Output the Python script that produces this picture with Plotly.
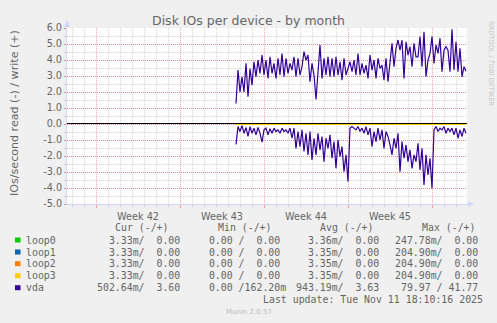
import plotly.graph_objects as go
import pandas as pd

# ---------------- data ----------------
# vda, 4-hourly samples starting 2025-10-24 16:00 (IOs/second)
vda_write = [
    1.28, 3.37, 2.01, 2.95, 2.01, 3.79, 1.70, 3.47, 2.43, 3.89,
    2.95, 3.99, 3.16, 4.31, 3.06, 3.99, 2.85, 4.20, 3.16, 3.79,
    2.85, 4.10, 3.06, 4.41, 2.95, 4.10, 3.16, 3.79, 3.37, 4.20,
    2.95, 4.10, 3.06, 3.58, 4.52, 3.99, 4.31, 2.64, 3.79, 3.06,
    1.53, 3.37, 4.94, 2.85, 4.10, 3.06, 4.20, 2.95, 4.10, 2.95,
    4.20, 3.06, 3.89, 2.74, 4.10, 3.06, 3.47,
    3.89, 3.27, 3.99, 3.06, 4.41, 3.06, 3.79, 3.16, 3.68, 2.85,
    4.31, 3.37, 3.99, 2.85, 4.10, 3.47, 3.68, 2.74, 4.10, 2.64,
    3.79, 5.04, 3.58, 4.73, 5.25, 4.62, 5.25, 2.85, 5.14, 4.31,
    4.83, 3.58, 5.04, 4.20, 4.20, 5.46, 3.58, 5.77, 2.95, 3.99,
    4.41, 5.46, 3.79, 4.94, 4.41, 5.35, 3.27, 4.62, 4.83, 4.62,
    3.27, 5.92, 3.37, 5.14, 3.27, 4.73, 2.95, 3.58, 3.30,
]
vda_read = [
    1.27, 0.16, 0.47, 0.10, 0.58, 0.22, 0.78, 0.16, 0.58, 0.26,
    0.68, 0.22, 0.58, 1.14, 0.37, 0.26, 0.68, 0.30, 0.58, 0.26,
    0.47, 0.37, 0.58, 0.26, 0.47, 0.37, 0.58, 0.26, 0.89, 0.26,
    1.52, 0.47, 1.41, 0.37, 1.72, 0.58, 1.93, 0.47, 2.25, 0.89,
    1.93, 0.58, 1.62, 0.78, 2.35, 0.89, 1.52, 0.68, 2.14, 1.10,
    2.77, 0.99, 2.04, 1.41, 2.98, 1.93, 3.60,
    0.26,
    0.16, 0.26, 0.37, 0.16, 0.47, 0.26, 0.58, 0.16, 0.68,
    0.26, 1.41, 0.47, 1.10, 0.26, 0.99, 0.37, 1.52, 0.47, 0.78,
    1.31, 1.93, 0.89, 1.52, 0.58, 2.98, 1.10, 2.14, 1.31, 2.35,
    1.62, 2.77, 1.93, 2.35, 1.20, 2.87, 1.52, 3.81, 1.93, 3.19,
    2.14, 4.02, 0.37, 0.16, 0.47, 0.26, 0.37, 0.16, 0.58, 0.26,
    0.47, 0.26, 0.68, 0.26, 0.89, 0.37, 0.78, 0.26, 0.58,
]
# loop devices, 46-hourly samples starting 2025-10-24 16:00 (IOs/second)
loop0_read = [0.00336, 0.00335, 0.00337, 0.00334, 0.00336, 0.00338, 0.00335, 0.00336, 0.00334, 0.00335, 0.00333]
loop1_read = [0.00335, 0.00335, 0.00334, 0.00336, 0.00335, 0.00334, 0.00335, 0.00336, 0.00335, 0.00334, 0.00333]
loop2_read = [0.00335, 0.00334, 0.00335, 0.00336, 0.00335, 0.00335, 0.00334, 0.00335, 0.00336, 0.00335, 0.00333]
loop3_read = [0.00335, 0.00335, 0.00336, 0.00334, 0.00335, 0.00336, 0.00335, 0.00334, 0.00335, 0.00335, 0.00333]
loop_write = [0.0, 0.0, 0.0, 0.0, 0.0, 0.0, 0.0, 0.0, 0.0, 0.0, 0.0]

# legend table
device_names = ["loop0", "loop1", "loop2", "loop3", "vda"]
device_colors = ["#00CC00", "#0066B3", "#FF8000", "#FFCC00", "#330099"]
cur_read = ["3.33m", "3.33m", "3.33m", "3.33m", "502.64m"]
cur_write = ["0.00", "0.00", "0.00", "0.00", "3.60"]
min_read = ["0.00", "0.00", "0.00", "0.00", "0.00"]
min_write = ["0.00", "0.00", "0.00", "0.00", "162.20m"]
avg_read = ["3.36m", "3.35m", "3.35m", "3.35m", "943.19m"]
avg_write = ["0.00", "0.00", "0.00", "0.00", "3.63"]
max_read = ["247.78m", "204.90m", "204.90m", "204.90m", "79.97"]
max_write = ["0.00", "0.00", "0.00", "0.00", "41.77"]
column_headers = ["Cur (-/+)", "Min (-/+)", "Avg (-/+)", "Max (-/+)"]

# axis ticks
y_tick_values = [-5, -4, -3, -2, -1, 0, 1, 2, 3, 4, 5, 6]
y_tick_text = ["-5.0", "-4.0", "-3.0", "-2.0", "-1.0", "0.0", "1.0", "2.0", "3.0", "4.0", "5.0", "6.0"]

title_text = "Disk IOs per device - by month"
y_title = "IOs/second read (-) / write (+)"
last_update = "Last update: Tue Nov 11 18:10:16 2025"
watermark = "Munin 2.0.57"
rrd_credit = "RRDTOOL / TOBI OETIKER"

data_start = pd.Timestamp("2025-10-24 16:00")
vda_times = pd.date_range(data_start, periods=len(vda_write), freq="4h")
loop_times = pd.date_range(data_start, periods=len(loop_write), freq="46h")

# ---------------- layout geometry ----------------
W, H = 497, 323
L, R, T, B = 67, 30, 28, 119
PW, PH = W - L - R, H - T - B

def px(x):
    return (x - L) / PW

def py(y):
    return (H - B - y) / PH

FONT_COLOR = "#666666"
AXIS_COLOR = "#CFD6F8"
MGRID = "rgba(224,80,80,0.5)"
GRID = "rgba(143,143,143,0.36)"

fig = go.Figure()
for name, color, rd in zip(device_names[:4], device_colors[:4],
                           [loop0_read, loop1_read, loop2_read, loop3_read]):
    fig.add_trace(go.Scatter(x=loop_times, y=[-v for v in rd], mode="lines",
                             line=dict(color=color, width=2), name=name + " read",
                             hoverinfo="skip"))
    fig.add_trace(go.Scatter(x=loop_times, y=loop_write, mode="lines",
                             line=dict(color=color, width=2), name=name + " write",
                             hoverinfo="skip"))
fig.add_trace(go.Scatter(x=vda_times, y=[-v for v in vda_read], mode="lines",
                         line=dict(color=device_colors[4], width=1.2), name="vda read",
                         hoverinfo="skip"))
fig.add_trace(go.Scatter(x=vda_times, y=vda_write, mode="lines",
                         line=dict(color=device_colors[4], width=1.2), name="vda write",
                         hoverinfo="skip"))

shapes = [
    # zero line
    dict(type="line", xref="paper", x0=0, x1=1, yref="y", ysizemode="pixel", yanchor=0,
         y0=0.5, y1=0.5, line=dict(color="#000000", width=1), layer="above"),
    # y axis extension + arrow
    dict(type="line", xref="paper", x0=0, x1=0, yref="paper", ysizemode="pixel", yanchor=1,
         y0=0, y1=6, line=dict(color=AXIS_COLOR, width=1)),
    dict(type="path", xref="paper", xsizemode="pixel", xanchor=0, yref="paper",
         ysizemode="pixel", yanchor=1, path="M-3,1 L3,1 L0,8 Z",
         fillcolor=AXIS_COLOR, line=dict(width=0)),
    # x axis extension + arrow
    dict(type="line", xref="paper", xsizemode="pixel", xanchor=1, x0=0, x1=2, yref="paper",
         y0=0, y1=0, line=dict(color=AXIS_COLOR, width=1)),
    dict(type="path", xref="paper", xsizemode="pixel", xanchor=1, yref="paper",
         ysizemode="pixel", yanchor=0, path="M1,-3 L1,3 L7,0 Z",
         fillcolor=AXIS_COLOR, line=dict(width=0)),
]

annotations = []
MONO = "DejaVu Sans Mono"
LEG_SIZE = 9.9

def ann(text, x, y, xanchor="left", size=LEG_SIZE, family=MONO, color=FONT_COLOR, angle=0):
    annotations.append(dict(text=text, x=px(x), y=py(y), xref="paper", yref="paper",
                            xanchor=xanchor, yanchor="middle", showarrow=False,
                            borderpad=0, borderwidth=0, textangle=angle,
                            font=dict(family=family, size=size, color=color)))

def fmt_one(v):
    if v.endswith("m"):
        return v[:-1].rjust(6) + "m"
    return v.rjust(6) + " "

def field(r, w):
    return (fmt_one(r) + "/" + fmt_one(w)).replace(" ", "\u00a0")

header_x = [115.4, 218.4, 320.4, 422.4]
field_x = [97.4, 196.7, 295.7, 395.1]
row_y = [240.0, 252.0, 263.7, 275.7, 287.7]

for hx, htxt in zip(header_x, column_headers):
    ann(htxt.replace(" ", "\u00a0"), hx, 227.5)

for i, name in enumerate(device_names):
    y = row_y[i]
    shapes.append(dict(type="rect", xref="paper", yref="paper",
                       x0=px(15), x1=px(20.5), y0=py(y + 2.5), y1=py(y - 2.5),
                       fillcolor=device_colors[i], line=dict(width=0)))
    ann(name, 25.5, y)
    vals = [(cur_read[i], cur_write[i]), (min_read[i], min_write[i]),
            (avg_read[i], avg_write[i]), (max_read[i], max_write[i])]
    for fx, (r, w) in zip(field_x, vals):
        ann(field(r, w), fx, y)

ann(last_update, 483.0, 299.3, xanchor="right")
ann(watermark, 248.5, 312.3, xanchor="center", size=7, family="DejaVu Sans", color="#BBBBBB")
ann(rrd_credit, 490.5, 63.5, xanchor="center", size=6.6, family="DejaVu Sans", color="#C4C4C4", angle=90)
ann(y_title, 14.5, 113.5, xanchor="center", size=11.1, family="DejaVu Sans", angle=-90)

fig.update_layout(
    width=W, height=H,
    margin=dict(l=L, r=R, t=T, b=B, pad=0),
    paper_bgcolor="#F0F0F0", plot_bgcolor="#FFFFFF",
    showlegend=False, hovermode=False,
    font=dict(family="DejaVu Sans", size=9.7, color=FONT_COLOR),
    title=dict(text=title_text, x=0.5, xanchor="center", xref="container",
               y=1 - 20.3 / H, yanchor="middle",
               font=dict(family="DejaVu Sans", size=12.5, color=FONT_COLOR)),
    xaxis=dict(
        type="date", range=["2025-10-10 14:00", "2025-11-12 22:00"],
        tickmode="linear", tick0="2025-10-13", dtick=7 * 86400000,
        tickformat="Week %V", ticklabelmode="period",
        showgrid=True, gridcolor=MGRID, griddash="1px,1px", gridwidth=1,
        ticks="outside", ticklen=3, tickcolor=MGRID, tickwidth=1,
        showline=True, linecolor=AXIS_COLOR, linewidth=1, zeroline=False,
        tickfont=dict(family="DejaVu Sans", size=9.7, color=FONT_COLOR),
        minor=dict(tick0="2025-10-13", dtick=86400000, showgrid=True, gridcolor=GRID,
                   griddash="1px,1px", gridwidth=1, ticks="outside", ticklen=2,
                   tickcolor=GRID),
        fixedrange=True,
    ),
    yaxis=dict(
        range=[-5, 6], tickmode="array", tickvals=y_tick_values, ticktext=y_tick_text,
        showgrid=True, gridcolor=MGRID, griddash="1px,1px", gridwidth=1,
        ticks="outside", ticklen=2, tickcolor=MGRID,
        showline=True, linecolor=AXIS_COLOR, linewidth=1, zeroline=False,
        tickfont=dict(family="DejaVu Sans", size=9.7, color=FONT_COLOR),
        minor=dict(tickmode="linear", tick0=0, dtick=0.5, showgrid=True, gridcolor=GRID,
                   griddash="1px,1px", gridwidth=1, ticks="outside", ticklen=2,
                   tickcolor=GRID),
        fixedrange=True,
    ),
    shapes=shapes,
    annotations=annotations,
)

fig.write_html("out.html", config={"displayModeBar": False, "staticPlot": True})
